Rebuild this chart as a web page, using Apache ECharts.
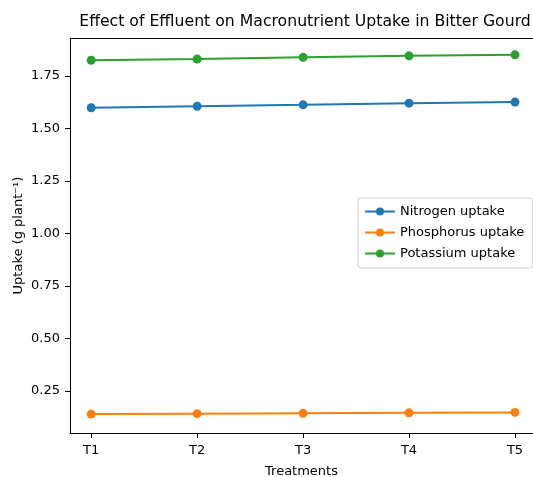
<!DOCTYPE html>
<html>
<head>
<meta charset="utf-8">
<script src="https://cdn.jsdelivr.net/npm/echarts@6/dist/echarts.min.js"></script>
<style>html,body{margin:0;padding:0;background:#fff}#c{width:533px;height:477px}</style>
</head>
<body>
<div id="c"></div>
<script>
var categories = ['T1', 'T2', 'T3', 'T4', 'T5'];
var nitrogen = [1.598, 1.605, 1.612, 1.620, 1.625];
var phosphorus = [0.140, 0.142, 0.144, 0.146, 0.148];
var potassium = [1.824, 1.830, 1.838, 1.845, 1.850];
var yTicks = [0.25, 0.50, 0.75, 1.00, 1.25, 1.50, 1.75];
var seriesNames = ['Nitrogen uptake', 'Phosphorus uptake', 'Potassium uptake'];
var colors = ['#1f77b4', '#ff7f0e', '#2ca02c'];

var font = 'DejaVu Sans';
function pts(arr) { return arr.map(function (v, i) { return [i, v]; }); }
var allData = [nitrogen, phosphorus, potassium];
var xTickVals = categories.map(function (c, i) { return i; });

var chart = echarts.init(document.getElementById('c'), null, {renderer: 'canvas'});
chart.setOption({
  animation: false,
  backgroundColor: '#fff',
  title: {
    text: 'Effect of Effluent on Macronutrient Uptake in Bitter Gourd',
    left: 300, textAlign: 'center', top: 9,
    textStyle: {fontFamily: font, fontSize: 15.7, fontWeight: 'normal', color: '#000'}
  },
  legend: {
    left: 358, top: 198,
    orient: 'vertical',
    backgroundColor: '#fff',
    borderColor: '#d0d0d0', borderWidth: 1, borderRadius: 3,
    padding: [7, 8, 8, 6],
    itemGap: 8,
    itemWidth: 30, itemHeight: 10,
    textStyle: {fontFamily: font, fontSize: 13, color: '#000'},
    data: seriesNames
  },
  grid: {left: 70, right: 0, top: 38, bottom: 44, containLabel: false, outerBoundsMode: 'none'},
  xAxis: [{
    type: 'value', min: -0.2, max: 4.17,
    name: 'Treatments', nameLocation: 'middle', nameGap: 32,
    nameTextStyle: {fontFamily: font, fontSize: 13, color: '#000'},
    axisLine: {show: true, onZero: false, lineStyle: {color: '#000', width: 1}},
    axisTick: {show: true, length: 5, lineStyle: {color: '#000'}, customValues: xTickVals},
    axisLabel: {fontFamily: font, fontSize: 13, color: '#000', margin: 11,
      customValues: xTickVals,
      formatter: function (v) { return categories[Math.round(v)]; }},
    splitLine: {show: false}
  }, {
    type: 'value', min: -0.2, max: 4.17, position: 'top',
    axisLine: {show: true, onZero: false, lineStyle: {color: '#000', width: 1}},
    axisTick: {show: false}, axisLabel: {show: false}, splitLine: {show: false}
  }],
  yAxis: {
    type: 'value', min: 0.05, max: 1.93,
    name: 'Uptake (g plant\u207B\u00B9)', nameLocation: 'middle', nameGap: 45,
    nameMoveOverlap: false,
    nameTextStyle: {fontFamily: font, fontSize: 13, color: '#000'},
    axisLine: {show: true, onZero: false, lineStyle: {color: '#000', width: 1}},
    axisTick: {show: true, length: 5, lineStyle: {color: '#000'}, customValues: yTicks},
    axisLabel: {fontFamily: font, fontSize: 13, color: '#000', margin: 10,
      customValues: yTicks,
      formatter: function (v) { return v.toFixed(2); }},
    splitLine: {show: false}
  },
  series: seriesNames.map(function (n, k) {
    return {
      name: n, type: 'line', data: pts(allData[k]),
      symbol: 'circle', symbolSize: 9,
      itemStyle: {color: colors[k]},
      lineStyle: {color: colors[k], width: 2}
    };
  })
});
</script>
</body>
</html>
